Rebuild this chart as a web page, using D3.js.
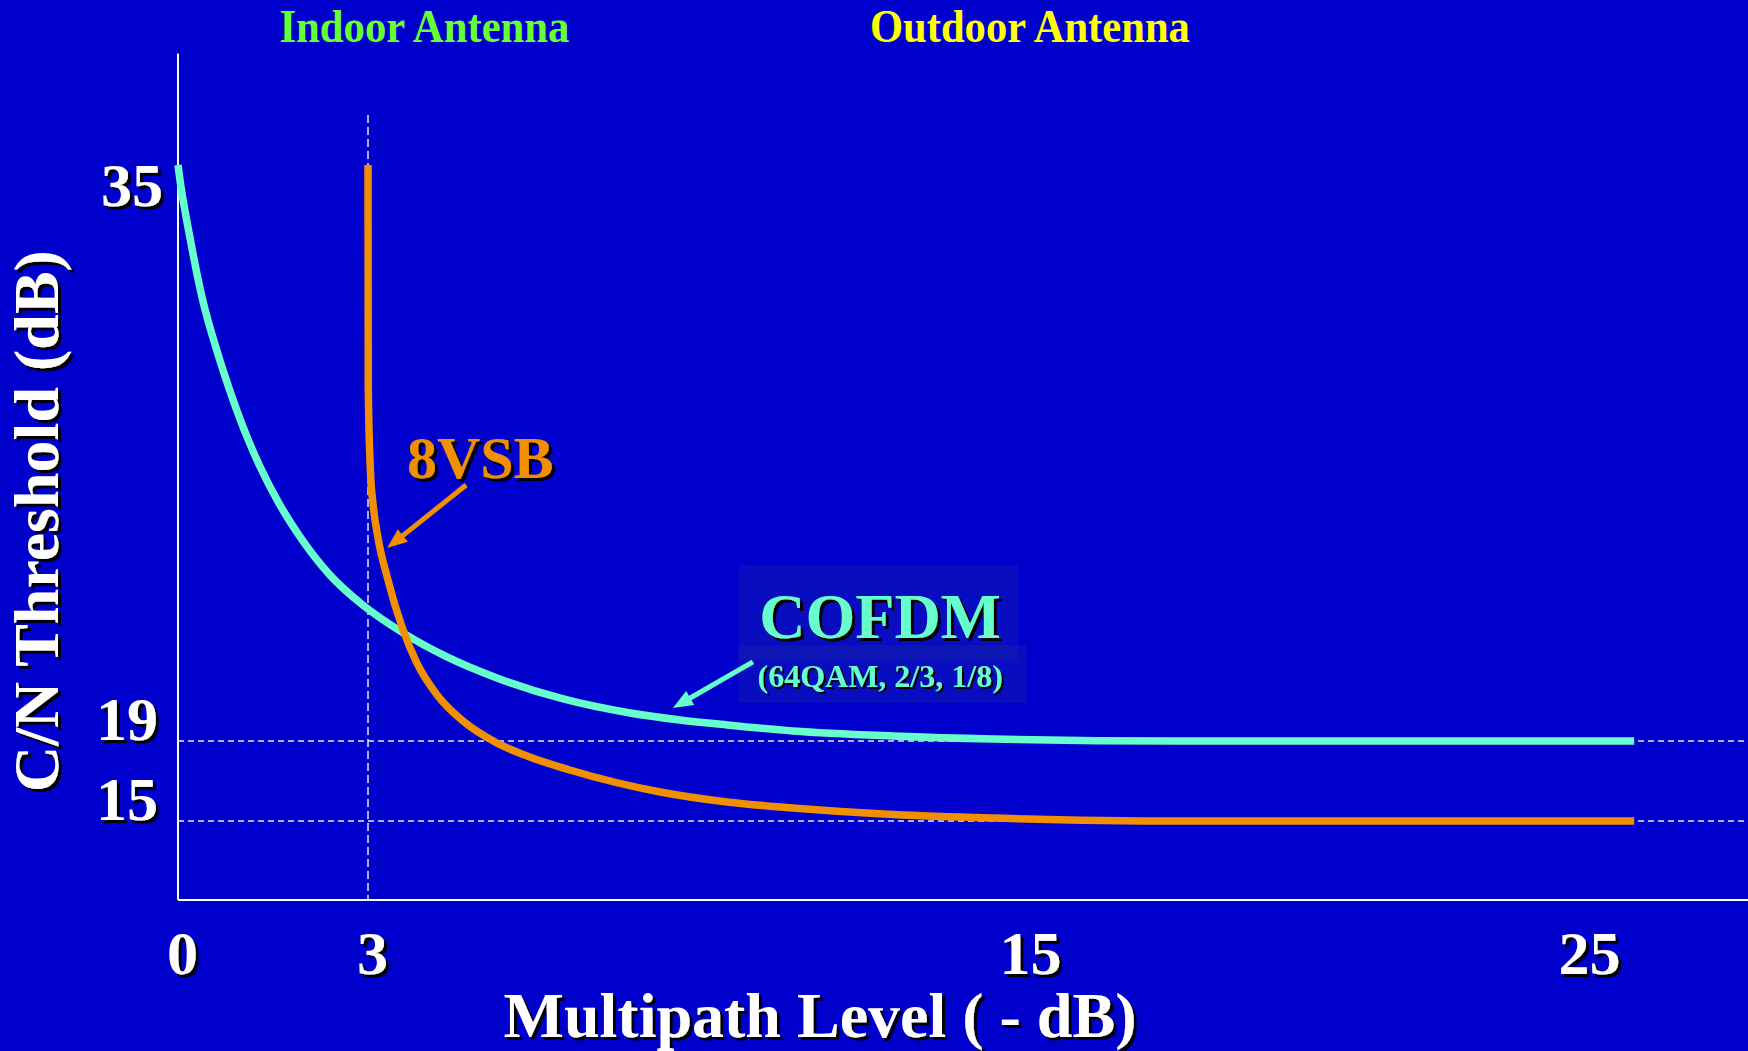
<!DOCTYPE html>
<html>
<head>
<meta charset="utf-8">
<script src="https://cdn.jsdelivr.net/npm/d3@7"></script>
<style>
  html, body { margin: 0; padding: 0; background: #0000cc; }
  svg { display: block; }
</style>
</head>
<body>
<div id="chart"></div>
<script>
// ============================================================
// Data
// ============================================================

const xTicks = [0, 3, 15, 25];
const yTicks = [15, 19, 35];

// COFDM (64QAM, 2/3, 1/8)
const cofdmX = [0, 0.016, 0.19, 0.39, 0.62, 0.87, 1.09, 1.29, 1.61, 1.93, 2.40, 2.92, 3.64, 4.44, 5.35, 6.56, 7.78, 8.69, 9.55, 10.75, 12.57, 14.40, 17.75, 25.88];
const cofdmY = [36.26, 36.02, 34.07, 32.21, 30.66, 29.22, 28.11, 27.24, 26.07, 25.11, 23.97, 23.07, 22.24, 21.52, 20.89, 20.26, 19.84, 19.63, 19.48, 19.30, 19.15, 19.06, 19.0, 19.0];

// 8VSB
const vsbX = [3.0, 3.005, 3.046, 3.09, 3.18, 3.35, 3.62, 3.89, 4.26, 4.73, 5.35, 5.95, 6.68, 8.33, 9.55, 10.75, 12.57, 14.40, 17.75, 25.88];
const vsbY = [36.26, 29.58, 27.03, 26.13, 25.11, 23.91, 22.42, 21.34, 20.38, 19.60, 18.9, 18.2, 17.55, 16.45, 15.95, 15.65, 15.33, 15.15, 15.0, 15.0];

// ============================================================
// Colors / fonts
// ============================================================

const COLORS = {
  bg:      "#0000cc",
  cofdm:   "#66ffcc",
  vsb:     "#f09000",
  axis:    "#ffffff",
  indoor:  "#66ff33",
  outdoor: "#ffff00",
};
const SERIF = "'Liberation Serif', 'Times New Roman', serif";

const W = 1748;
const H = 1051;

// the slide's axes are schematic, not linear -> piecewise scales
const x = d3.scaleLinear().domain([0, 3, 15, 25]).range([178, 368, 1026, 1585]);
const y = d3.scaleLinear().domain([11.05, 15, 19, 35]).range([900, 821, 741, 207]);

const svg = d3.select("#chart")
  .append("svg")
  .attr("width", W)
  .attr("height", H)
  .attr("viewBox", `0 0 ${W} ${H}`);

svg.append("rect").attr("width", W).attr("height", H).attr("fill", COLORS.bg);

// --- defs: hard black text shadows ---
const defs = svg.append("defs");
addShadow("shadow3", 3);
addShadow("shadow2", 2);

// ============================================================
// Grid + axis lines
// ============================================================

const gridG = svg.append("g");
gridG.selectAll("line.h")
  .data([19, 15])
  .join("line")
  .attr("class", "h")
  .attr("x1", x(0)).attr("x2", W)
  .attr("y1", (d) => y(d)).attr("y2", (d) => y(d))
  .attr("stroke", "#e8e8ff")
  .attr("stroke-width", 1.5)
  .attr("stroke-dasharray", "6,4");

gridG.append("line")
  .attr("x1", x(3)).attr("x2", x(3))
  .attr("y1", y(37.76)).attr("y2", y(11.05))
  .attr("stroke", "#e8e8ff")
  .attr("stroke-width", 1.5)
  .attr("stroke-dasharray", "8,4");

const axisG = svg.append("g");
axisG.append("line")
  .attr("x1", x(0)).attr("x2", x(0))
  .attr("y1", y(39.6)).attr("y2", y(11.05))
  .attr("stroke", COLORS.axis).attr("stroke-width", 2);
axisG.append("line")
  .attr("x1", x(0)).attr("x2", W)
  .attr("y1", y(11.05)).attr("y2", y(11.05))
  .attr("stroke", COLORS.axis).attr("stroke-width", 2);

// ============================================================
// Curves
// ============================================================

const line = d3.line()
  .x((d) => x(d[0]))
  .y((d) => y(d[1]))
  .curve(d3.curveMonotoneX);

const curveG = svg.append("g");
curveG.append("path")
  .datum(d3.zip(cofdmX, cofdmY))
  .attr("d", line)
  .attr("fill", "none")
  .attr("stroke", COLORS.cofdm)
  .attr("stroke-width", 7.5);

curveG.append("path")
  .datum(d3.zip(vsbX, vsbY))
  .attr("d", line)
  .attr("fill", "none")
  .attr("stroke", COLORS.vsb)
  .attr("stroke-width", 7.5);

// ============================================================
// Annotations
// ============================================================

const annG = svg.append("g");

// 8VSB label + arrow
annG.append("text")
  .attr("x", x(3.71)).attr("y", y(26.88))
  .attr("font-family", SERIF).attr("font-weight", "700")
  .attr("font-size", "60px")
  .attr("fill", COLORS.vsb)
  .attr("filter", "url(#shadow3)")
  .text("8VSB");
addArrow(annG, [4.79, 26.67], [3.35, 24.78], COLORS.vsb);

// COFDM boxed label + arrow
const cx = x(12.34), cy = y(22.09), sy = y(20.62);
annG.append("rect")
  .attr("x", cx - 141).attr("y", cy - 73)
  .attr("width", 279).attr("height", 95)
  .attr("fill", "rgba(50,80,130,0.16)");
annG.append("rect")
  .attr("x", cx - 142).attr("y", sy - 42)
  .attr("width", 288).attr("height", 58)
  .attr("fill", "rgba(50,80,130,0.16)");
annG.append("text")
  .attr("x", cx).attr("y", cy)
  .attr("text-anchor", "middle")
  .attr("font-family", SERIF).attr("font-weight", "700")
  .attr("font-size", "64px")
  .attr("fill", COLORS.cofdm)
  .attr("filter", "url(#shadow3)")
  .text("COFDM");
annG.append("text")
  .attr("x", cx).attr("y", sy)
  .attr("text-anchor", "middle")
  .attr("font-family", SERIF).attr("font-weight", "700")
  .attr("font-size", "32px")
  .attr("fill", COLORS.cofdm)
  .attr("filter", "url(#shadow2)")
  .text("(64QAM, 2/3, 1/8)");
addArrow(annG, [10.02, 21.37], [8.56, 19.99], COLORS.cofdm);

// ============================================================
// Axes tick labels + titles
// ============================================================

const xAxisG = svg.append("g")
  .attr("transform", "translate(4,974)")
  .call(d3.axisBottom(x).tickValues(xTicks).tickSize(0).tickPadding(0).tickFormat(d3.format("d")))
  .call((g) => g.select(".domain").remove());
xAxisG.selectAll("text")
  .attr("dy", 0)
  .attr("fill", "#fff")
  .attr("font-family", SERIF).attr("font-weight", "700")
  .attr("font-size", "62px")
  .attr("filter", "url(#shadow3)");

const yAxisG = svg.append("g")
  .attr("transform", "translate(158,-2)")
  .call(d3.axisLeft(y).tickValues(yTicks).tickSize(0).tickPadding(0).tickFormat(d3.format("d")))
  .call((g) => g.select(".domain").remove());
yAxisG.selectAll("text")
  .attr("dy", 0)
  .attr("dx", (d) => (d === 35 ? 5 : 0))
  .attr("fill", "#fff")
  .attr("font-family", SERIF).attr("font-weight", "700")
  .attr("font-size", "62px")
  .attr("filter", "url(#shadow3)");

svg.append("text")
  .attr("x", 820).attr("y", 1037)
  .attr("text-anchor", "middle")
  .attr("font-family", SERIF).attr("font-weight", "700")
  .attr("font-size", "64px")
  .attr("fill", "#fff")
  .attr("filter", "url(#shadow3)")
  .text("Multipath Level ( - dB)");

// shadow on an untransformed group so its offset stays in screen space
svg.append("g")
  .attr("filter", "url(#shadow3)")
  .append("text")
  .attr("transform", "translate(58,521) rotate(-90)")
  .attr("text-anchor", "middle")
  .attr("font-family", SERIF).attr("font-weight", "700")
  .attr("font-size", "64px")
  .attr("fill", "#fff")
  .text("C/N Threshold (dB)");

svg.append("text")
  .attr("x", x(4.03)).attr("y", 42)
  .attr("text-anchor", "middle")
  .attr("font-family", SERIF).attr("font-weight", "700")
  .attr("font-size", "46px")
  .attr("textLength", 290).attr("lengthAdjust", "spacingAndGlyphs")
  .attr("fill", COLORS.indoor)
  .text("Indoor Antenna");

svg.append("text")
  .attr("x", x(15.07)).attr("y", 42)
  .attr("text-anchor", "middle")
  .attr("font-family", SERIF).attr("font-weight", "700")
  .attr("font-size", "46px")
  .attr("textLength", 320).attr("lengthAdjust", "spacingAndGlyphs")
  .attr("fill", COLORS.outdoor)
  .text("Outdoor Antenna");

// ============================================================
// Helpers
// ============================================================

function addShadow(id, d) {
  const f = defs.append("filter")
    .attr("id", id)
    .attr("x", "-20%").attr("y", "-20%")
    .attr("width", "140%").attr("height", "140%");
  f.append("feDropShadow")
    .attr("dx", d).attr("dy", d)
    .attr("stdDeviation", 0)
    .attr("flood-color", "#000")
    .attr("flood-opacity", 1);
}

// straight shaft + filled head, endpoints given in data units
function addArrow(g, from, to, color) {
  const x0 = x(from[0]), y0 = y(from[1]);
  const x1 = x(to[0]), y1 = y(to[1]);
  const a = Math.atan2(y1 - y0, x1 - x0);
  const len = 20, half = 8;
  const bx = x1 - len * Math.cos(a), by = y1 - len * Math.sin(a);
  g.append("line")
    .attr("x1", x0).attr("y1", y0)
    .attr("x2", bx + 2 * Math.cos(a)).attr("y2", by + 2 * Math.sin(a))
    .attr("stroke", color)
    .attr("stroke-width", 5);
  const px = -Math.sin(a) * half, py = Math.cos(a) * half;
  g.append("path")
    .attr("d", `M${x1},${y1} L${bx + px},${by + py} L${bx - px},${by - py} Z`)
    .attr("fill", color);
}
</script>
</body>
</html>
